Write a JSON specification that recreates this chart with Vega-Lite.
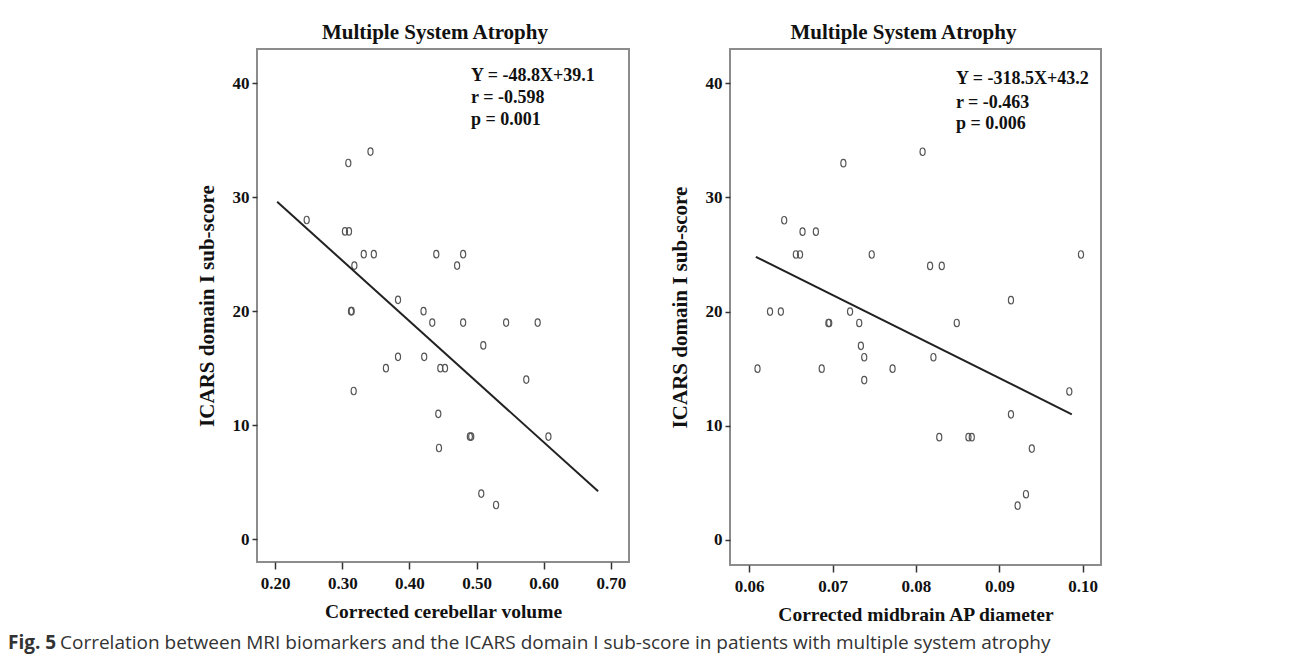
{
  "$schema": "https://vega.github.io/schema/vega-lite/v6.json",
  "padding": {"left": 8, "top": 21, "right": 5, "bottom": 5},
  "background": "white",
  "config": {
    "font": "Liberation Serif",
    "view": {"stroke": "#8c8c8c", "strokeWidth": 2},
    "axis": {"grid": false, "domain": false, "tickColor": "#333", "tickSize": 5, "tickWidth": 1.5,
      "labelFont": "Liberation Serif", "labelFontSize": 17, "labelFontWeight": "bold", "labelColor": "#111",
      "titleFont": "Liberation Serif", "titleFontSize": 21, "titleFontWeight": "bold", "titleColor": "#111"},
    "axisX": {"labelPadding": 6, "titlePadding": 11, "tickSize": 7, "titleFontSize": 19.5},
    "axisY": {"labelPadding": 3, "titlePadding": 15},
    "title": {"font": "Liberation Serif", "fontSize": 21, "fontWeight": "bold", "color": "#111", "offset": 6},
    "concat": {"spacing": 38}
  },
  "datasets": {
    "left": [
      {"x": 0.342, "y": 34}, {"x": 0.309, "y": 33}, {"x": 0.247, "y": 28}, {"x": 0.304, "y": 27},
      {"x": 0.310, "y": 27}, {"x": 0.332, "y": 25}, {"x": 0.347, "y": 25}, {"x": 0.440, "y": 25},
      {"x": 0.480, "y": 25}, {"x": 0.318, "y": 24}, {"x": 0.471, "y": 24}, {"x": 0.383, "y": 21},
      {"x": 0.313, "y": 20}, {"x": 0.314, "y": 20}, {"x": 0.421, "y": 20}, {"x": 0.434, "y": 19},
      {"x": 0.480, "y": 19}, {"x": 0.544, "y": 19}, {"x": 0.591, "y": 19}, {"x": 0.510, "y": 17},
      {"x": 0.383, "y": 16}, {"x": 0.422, "y": 16}, {"x": 0.365, "y": 15}, {"x": 0.446, "y": 15},
      {"x": 0.453, "y": 15}, {"x": 0.574, "y": 14}, {"x": 0.317, "y": 13}, {"x": 0.443, "y": 11},
      {"x": 0.490, "y": 9}, {"x": 0.492, "y": 9}, {"x": 0.607, "y": 9}, {"x": 0.444, "y": 8},
      {"x": 0.507, "y": 4}, {"x": 0.529, "y": 3}
    ],
    "leftLine": [{"x": 0.203, "y": 29.6}, {"x": 0.681, "y": 4.2}],
    "leftText": [
      {"x": 0.4917, "y": 40.6, "label": "Y = -48.8X+39.1"},
      {"x": 0.4917, "y": 38.7, "label": "r = -0.598"},
      {"x": 0.4917, "y": 36.8, "label": "p = 0.001"}
    ],
    "right": [
      {"x": 0.0713, "y": 33}, {"x": 0.0808, "y": 34}, {"x": 0.0642, "y": 28}, {"x": 0.0664, "y": 27},
      {"x": 0.0680, "y": 27}, {"x": 0.0656, "y": 25}, {"x": 0.0661, "y": 25}, {"x": 0.0747, "y": 25},
      {"x": 0.0998, "y": 25}, {"x": 0.0817, "y": 24}, {"x": 0.0831, "y": 24}, {"x": 0.0914, "y": 21},
      {"x": 0.0625, "y": 20}, {"x": 0.0638, "y": 20}, {"x": 0.0721, "y": 20}, {"x": 0.0695, "y": 19},
      {"x": 0.0696, "y": 19}, {"x": 0.0732, "y": 19}, {"x": 0.0849, "y": 19}, {"x": 0.0734, "y": 17},
      {"x": 0.0738, "y": 16}, {"x": 0.0821, "y": 16}, {"x": 0.0610, "y": 15}, {"x": 0.0687, "y": 15},
      {"x": 0.0772, "y": 15}, {"x": 0.0738, "y": 14}, {"x": 0.0984, "y": 13}, {"x": 0.0914, "y": 11},
      {"x": 0.0828, "y": 9}, {"x": 0.0863, "y": 9}, {"x": 0.0867, "y": 9}, {"x": 0.0939, "y": 8},
      {"x": 0.0932, "y": 4}, {"x": 0.0922, "y": 3}
    ],
    "rightLine": [{"x": 0.0608, "y": 24.8}, {"x": 0.0987, "y": 11.0}],
    "rightText": [
      {"x": 0.0848, "y": 40.4, "label": "Y = -318.5X+43.2"},
      {"x": 0.0848, "y": 38.3, "label": "r = -0.463"},
      {"x": 0.0848, "y": 36.4, "label": "p = 0.006"}
    ]
  },
  "title": {
    "text": "Correlation between MRI biomarkers and the ICARS domain I sub-score in patients with multiple system atrophy",
    "orient": "bottom", "anchor": "start", "font": "Open Sans", "fontSize": 19, "fontWeight": "normal",
    "color": "#333", "offset": 0, "dx": 52, "dy": -19
  },
  "vconcat": [
    {
      "title": {"text": "Fig. 5", "orient": "bottom", "anchor": "start", "font": "Open Sans", "fontSize": 19,
        "fontWeight": "bold", "color": "#333", "offset": 9, "dx": -187},
      "hconcat": [
        {
          "width": 372, "height": 513,
          "title": {"text": "Multiple System Atrophy", "dx": -8},
          "layer": [
            {
              "data": {"name": "left"},
              "mark": {"type": "point", "shape": "M0,-1A0.68,1,0,1,1,0,1A0.68,1,0,1,1,0,-1Z", "size": 56, "filled": false, "stroke": "#555", "strokeWidth": 1.2, "opacity": 1},
              "encoding": {
                "x": {"field": "x", "type": "quantitative", "scale": {"domain": [0.173, 0.727], "nice": false, "zero": false},
                  "axis": {"title": "Corrected cerebellar volume", "values": [0.2, 0.3, 0.4, 0.5, 0.6, 0.7], "format": ".2f"}},
                "y": {"field": "y", "type": "quantitative", "scale": {"domain": [-2, 43], "nice": false, "zero": false},
                  "axis": {"title": "ICARS domain I sub-score", "values": [0, 10, 20, 30, 40]}}
              }
            },
            {
              "data": {"name": "leftLine"},
              "mark": {"type": "line", "color": "#222", "strokeWidth": 2},
              "encoding": {"x": {"field": "x", "type": "quantitative"}, "y": {"field": "y", "type": "quantitative"}}
            },
            {
              "data": {"name": "leftText"},
              "mark": {"type": "text", "align": "left", "baseline": "middle", "font": "Liberation Serif", "fontSize": 18, "fontWeight": "bold", "color": "#111"},
              "encoding": {"x": {"field": "x", "type": "quantitative"}, "y": {"field": "y", "type": "quantitative"}, "text": {"field": "label"}}
            }
          ]
        },
        {
          "width": 371, "height": 516,
          "title": {"text": "Multiple System Atrophy", "dx": -12},
          "layer": [
            {
              "data": {"name": "right"},
              "mark": {"type": "point", "shape": "M0,-1A0.68,1,0,1,1,0,1A0.68,1,0,1,1,0,-1Z", "size": 56, "filled": false, "stroke": "#555", "strokeWidth": 1.2, "opacity": 1},
              "encoding": {
                "x": {"field": "x", "type": "quantitative", "scale": {"domain": [0.0577, 0.1022], "nice": false, "zero": false},
                  "axis": {"title": "Corrected midbrain AP diameter", "values": [0.06, 0.07, 0.08, 0.09, 0.1], "format": ".2f"}},
                "y": {"field": "y", "type": "quantitative", "scale": {"domain": [-2.2, 43], "nice": false, "zero": false},
                  "axis": {"title": "ICARS domain I sub-score", "values": [0, 10, 20, 30, 40]}}
              }
            },
            {
              "data": {"name": "rightLine"},
              "mark": {"type": "line", "color": "#222", "strokeWidth": 2},
              "encoding": {"x": {"field": "x", "type": "quantitative"}, "y": {"field": "y", "type": "quantitative"}}
            },
            {
              "data": {"name": "rightText"},
              "mark": {"type": "text", "align": "left", "baseline": "middle", "font": "Liberation Serif", "fontSize": 18, "fontWeight": "bold", "color": "#111"},
              "encoding": {"x": {"field": "x", "type": "quantitative"}, "y": {"field": "y", "type": "quantitative"}, "text": {"field": "label"}}
            }
          ]
        }
      ]
    }
  ]
}
